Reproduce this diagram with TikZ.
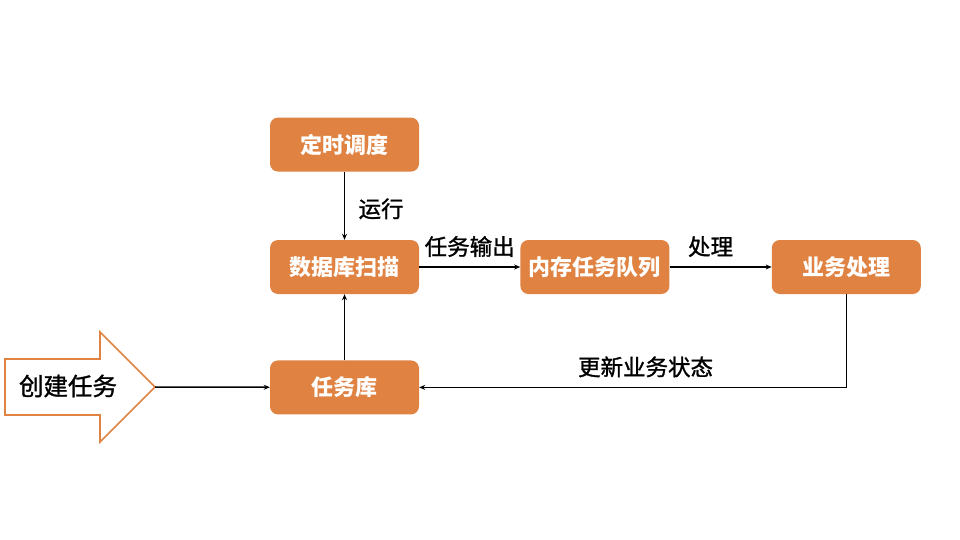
\documentclass[tikz,border=0pt]{standalone}
\usepackage{fontspec}
\setmainfont{Noto Sans CJK SC}
\newfontfamily\lblfont[FakeBold=1.2]{Noto Sans CJK SC}
\usetikzlibrary{positioning,arrows.meta}
\definecolor{boxorange}{RGB}{224,131,66}

\begin{document}
\begin{tikzpicture}[
  x=1pt,y=-1pt,
  >={Stealth[length=6pt,width=5pt]},
  stagebox/.style={draw=none,fill=boxorange,rounded corners=8pt,text=white,
    minimum width=149pt,minimum height=54pt,font=\fontsize{22}{26}\selectfont\bfseries},
  flow/.style={->,line width=1.5pt},
  lbl/.style={font=\lblfont\fontsize{22.5}{26}\selectfont,text=black}
]
  \useasboundingbox (0,0) rectangle (960,540);

  \node[stagebox] (scan) at (344.5,267) {数据库扫描};
  \node[stagebox,above=68pt of scan] (timer) {定时调度};
  \node[stagebox,below=66pt of scan] (taskdb) {任务库};
  \node[stagebox,right=101pt of scan] (queue) {内存任务队列};
  \node[stagebox,right=102pt of queue] (biz) {业务处理};

  % create task arrow
  \draw[boxorange,line width=1.6pt,line join=miter]
    (5,359) -- (100,359) -- (100,332) -- (155,387) -- (100,442) -- (100,415) -- (5,415) -- cycle;
  \node[font=\lblfont\fontsize{24.5}{28}\selectfont] (create) at (68,386) {创建任务};
  \coordinate (createtip) at (155,387);

  \draw[flow] (createtip) -- (taskdb);
  \draw[flow] (taskdb) -- (scan);
  \draw[flow] (timer) -- node[lbl,right=10pt,yshift=-3pt] {运行} (scan);
  \draw[flow] (scan) -- node[lbl,above=6pt] {任务输出} (queue);
  \draw[flow] (queue) -- node[lbl,above=6pt,xshift=-10pt] {处理} (biz);
  \draw[flow] (biz.south) |- node[lbl,pos=0.735,above=6pt] {更新业务状态} (taskdb.east);
\end{tikzpicture}
\end{document}
